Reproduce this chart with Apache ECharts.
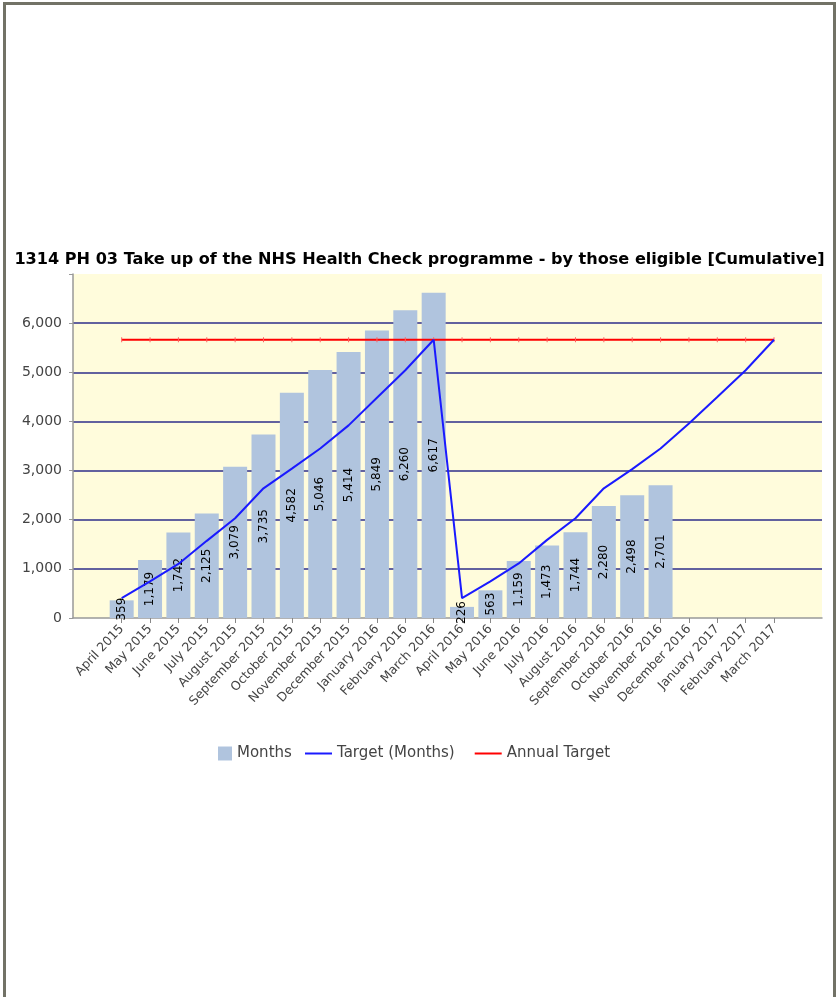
<!DOCTYPE html>
<html>
<head>
<meta charset="utf-8">
<script src="https://cdn.jsdelivr.net/npm/echarts@6/dist/echarts.min.js"></script>
<style>
  html, body { margin: 0; padding: 0; background: #fff; }
  #frame { position: absolute; left: 3px; top: 2px; width: 827px; height: 995px;
           border-left: 3px solid #727266; border-right: 3px solid #727266; border-top: 3px solid #727266; }
  #chart { position: absolute; left: 0; top: 0; width: 839px; height: 997px; }
</style>
</head>
<body>
<div id="frame"></div>
<div id="chart"></div>
<script>
const categories = ['April 2015','May 2015','June 2015','July 2015','August 2015','September 2015',
  'October 2015','November 2015','December 2015','January 2016','February 2016','March 2016',
  'April 2016','May 2016','June 2016','July 2016','August 2016','September 2016',
  'October 2016','November 2016','December 2016','January 2017','February 2017','March 2017'];
const monthsValues = [359, 1179, 1742, 2125, 3079, 3735, 4582, 5046, 5414, 5849, 6260, 6617,
  226, 563, 1159, 1473, 1744, 2280, 2498, 2701, null, null, null, null];
const targetMonths = [406, 744, 1100, 1570, 2030, 2639, 3040, 3450, 3920, 4480, 5041, 5663,
  406, 744, 1110, 1590, 2030, 2639, 3030, 3450, 3958, 4499, 5041, 5663];
const annualTarget = [5663, 5663, 5663, 5663, 5663, 5663, 5663, 5663, 5663, 5663, 5663, 5663,
  5663, 5663, 5663, 5663, 5663, 5663, 5663, 5663, 5663, 5663, 5663, 5663];

const font = 'DejaVu Sans';
const fmt = v => Number(v).toLocaleString('en-US');
const chart = echarts.init(document.getElementById('chart'));
const gridTop = 274, gridBottom = 379;
const navy = '#2E2E8A', clear = 'rgba(0,0,0,0)';
chart.setOption({
  animation: false,
  title: {
    text: '1314 PH 03 Take up of the NHS Health Check programme - by those eligible [Cumulative]',
    left: 'center', top: 247,
    textStyle: { fontFamily: 'DejaVu Sans', fontWeight: 'bold', fontSize: 16.1, color: '#000' }
  },
  legend: [
    { data: ['Months'], left: 213, top: 741, itemWidth: 14, itemHeight: 14, icon: 'rect',
      textStyle: { fontFamily: font, fontSize: 15, color: '#444' } },
    { data: [{ name: 'Target (Months)', itemStyle: { color: '#1A1AFF' } },
             { name: 'Annual Target', itemStyle: { color: '#FF0000' } }],
      left: 300, top: 741, itemWidth: 27, itemHeight: 2,
      icon: 'rect', itemGap: 20,
      textStyle: { fontFamily: font, fontSize: 15, color: '#444' } }
  ],
  grid: [
    { left: 73, right: 17, top: gridTop, bottom: gridBottom, show: true, backgroundColor: '#FFFCDC', borderWidth: 0 },
    { left: 107.5, right: 50.8, top: gridTop, bottom: gridBottom }
  ],
  xAxis: [
    { gridIndex: 0, type: 'value', min: 0, max: 1, show: true,
      axisLine: { show: true, lineStyle: { color: '#999', width: 1.5 } },
      axisTick: { show: false }, axisLabel: { show: false }, splitLine: { show: false } },
    { gridIndex: 1, type: 'category', data: categories,
      axisLine: { show: false },
      axisTick: { show: true, alignWithLabel: true, length: 5, lineStyle: { color: '#888' } },
      axisLabel: { rotate: 47, interval: 0, margin: 9, fontFamily: font, fontSize: 12.5, color: '#444' } }
  ],
  yAxis: [
    { gridIndex: 0, type: 'value', min: 0, max: 7000, interval: 1000,
      axisLine: { show: true, lineStyle: { color: '#999', width: 1.5 } },
      axisTick: { show: true, length: 4, lineStyle: { color: [ '#888' ] } },
      axisLabel: { fontFamily: font, fontSize: 14, color: '#444', margin: 11,
        formatter: v => (v === 7000 ? '' : fmt(v)) },
      splitLine: { show: true, lineStyle: { color: [clear, navy, navy, navy, navy, navy, navy, clear], width: 1.5 } } },
    { gridIndex: 1, type: 'value', min: 0, max: 7000, show: false, splitLine: { show: false } }
  ],
  series: [
    { name: 'Months', type: 'bar', xAxisIndex: 1, yAxisIndex: 1, data: monthsValues, barWidth: 24,
      itemStyle: { color: '#B0C4DE' },
      label: { show: true, position: 'inside', rotate: 90, fontFamily: font, fontSize: 12, color: '#000',
        formatter: p => fmt(p.value) } },
    { name: 'Target (Months)', type: 'line', xAxisIndex: 1, yAxisIndex: 1, data: targetMonths,
      showSymbol: false, symbol: 'none', lineStyle: { color: '#1A1AFF', width: 2 }, itemStyle: { color: '#1A1AFF' }, z: 5 },
    { name: 'Annual Target', type: 'line', xAxisIndex: 1, yAxisIndex: 1, data: annualTarget,
      symbol: 'rect', symbolSize: [1, 5], lineStyle: { color: '#FF0000', width: 2 },
      itemStyle: { color: '#FF6060' }, z: 4 }
  ]
});
</script>
</body>
</html>
